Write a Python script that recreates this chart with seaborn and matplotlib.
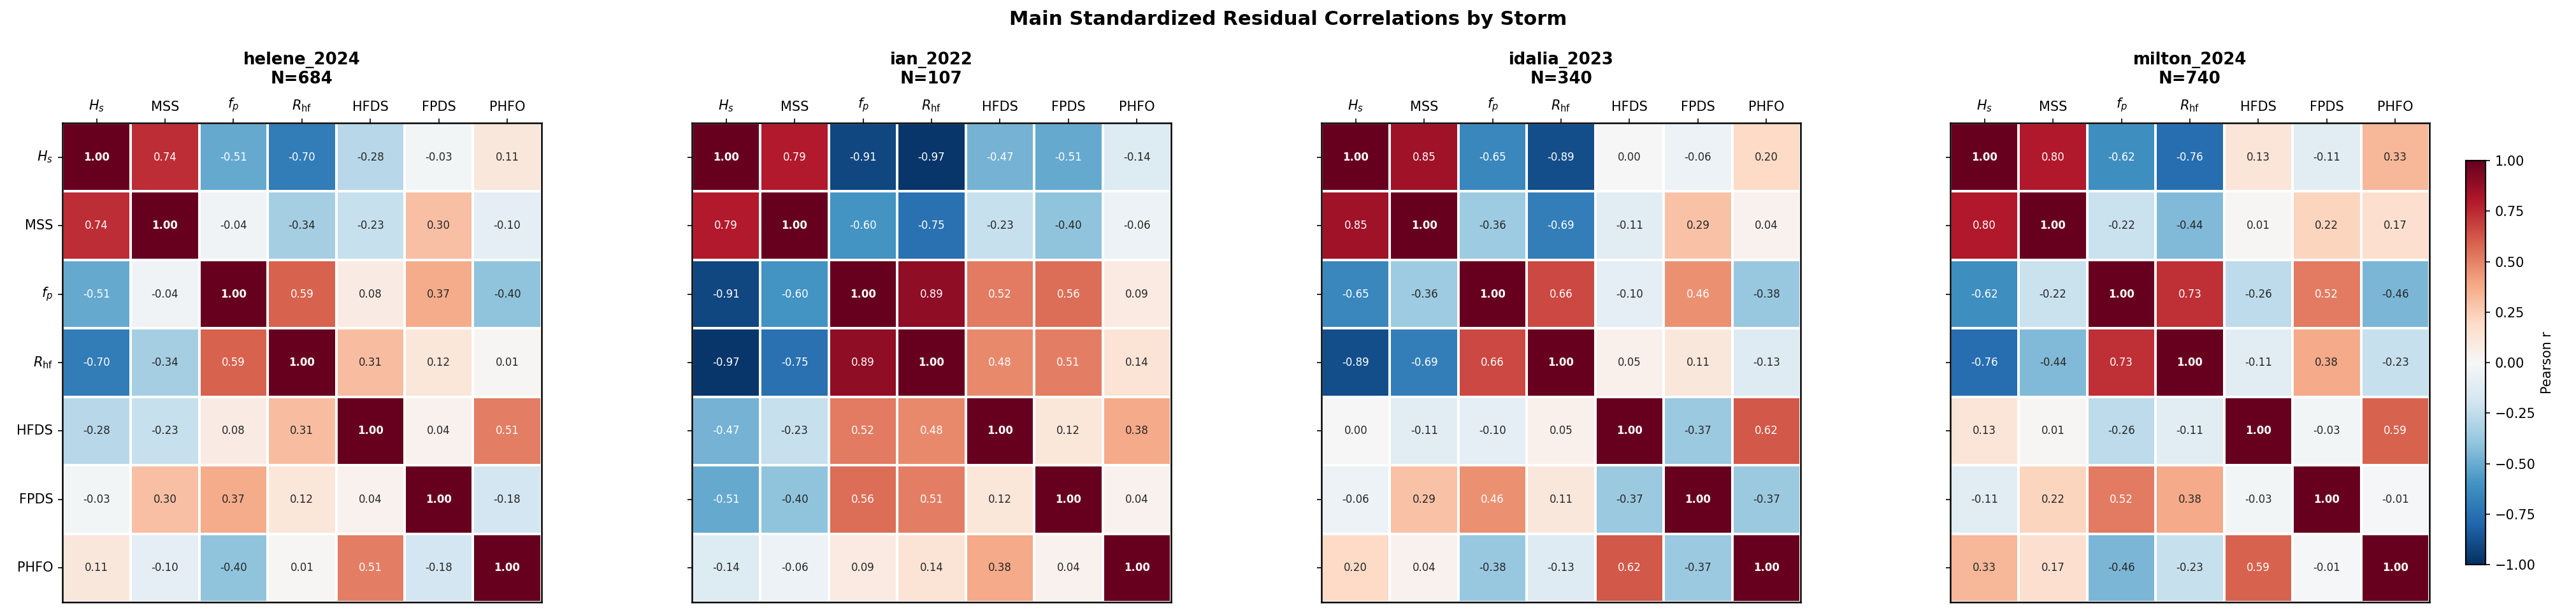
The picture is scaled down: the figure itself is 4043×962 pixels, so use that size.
import numpy as np
import pandas as pd
import matplotlib
matplotlib.use("Agg")
import matplotlib.pyplot as plt
import seaborn as sns

# variable labels (same order on both axes)
var_labels = [r"$H_s$", "MSS", r"$f_p$", r"$R_{\rm hf}$", "HFDS", "FPDS", "PHFO"]

storms = ["helene_2024", "ian_2022", "idalia_2023", "milton_2024"]
n_obs = [684, 107, 340, 740]

helene_corr = [
    [1.00, 0.74, -0.51, -0.70, -0.28, -0.03, 0.11],
    [0.74, 1.00, -0.04, -0.34, -0.23, 0.30, -0.10],
    [-0.51, -0.04, 1.00, 0.59, 0.08, 0.37, -0.40],
    [-0.70, -0.34, 0.59, 1.00, 0.31, 0.12, 0.01],
    [-0.28, -0.23, 0.08, 0.31, 1.00, 0.04, 0.51],
    [-0.03, 0.30, 0.37, 0.12, 0.04, 1.00, -0.18],
    [0.11, -0.10, -0.40, 0.01, 0.51, -0.18, 1.00],
]
ian_corr = [
    [1.00, 0.79, -0.91, -0.97, -0.47, -0.51, -0.14],
    [0.79, 1.00, -0.60, -0.75, -0.23, -0.40, -0.06],
    [-0.91, -0.60, 1.00, 0.89, 0.52, 0.56, 0.09],
    [-0.97, -0.75, 0.89, 1.00, 0.48, 0.51, 0.14],
    [-0.47, -0.23, 0.52, 0.48, 1.00, 0.12, 0.38],
    [-0.51, -0.40, 0.56, 0.51, 0.12, 1.00, 0.04],
    [-0.14, -0.06, 0.09, 0.14, 0.38, 0.04, 1.00],
]
idalia_corr = [
    [1.00, 0.85, -0.65, -0.89, 0.00, -0.06, 0.20],
    [0.85, 1.00, -0.36, -0.69, -0.11, 0.29, 0.04],
    [-0.65, -0.36, 1.00, 0.66, -0.10, 0.46, -0.38],
    [-0.89, -0.69, 0.66, 1.00, 0.05, 0.11, -0.13],
    [0.00, -0.11, -0.10, 0.05, 1.00, -0.37, 0.62],
    [-0.06, 0.29, 0.46, 0.11, -0.37, 1.00, -0.37],
    [0.20, 0.04, -0.38, -0.13, 0.62, -0.37, 1.00],
]
milton_corr = [
    [1.00, 0.80, -0.62, -0.76, 0.13, -0.11, 0.33],
    [0.80, 1.00, -0.22, -0.44, 0.01, 0.22, 0.17],
    [-0.62, -0.22, 1.00, 0.73, -0.26, 0.52, -0.46],
    [-0.76, -0.44, 0.73, 1.00, -0.11, 0.38, -0.23],
    [0.13, 0.01, -0.26, -0.11, 1.00, -0.03, 0.59],
    [-0.11, 0.22, 0.52, 0.38, -0.03, 1.00, -0.01],
    [0.33, 0.17, -0.46, -0.23, 0.59, -0.01, 1.00],
]
all_corr = [helene_corr, ian_corr, idalia_corr, milton_corr]

fig = plt.figure(figsize=(4043 / 150, 962 / 150), dpi=150)

lefts = [0.0242, 0.2686, 0.5130, 0.7571]
cax = fig.add_axes([0.9572, 0.079, 0.0077, 0.659])

for i, (name, n, corr) in enumerate(zip(storms, n_obs, all_corr)):
    ax = fig.add_axes([lefts[i], 0.0177, 0.186, 0.7817])
    df = pd.DataFrame(corr, index=var_labels, columns=var_labels)
    last = i == len(storms) - 1
    sns.heatmap(df, ax=ax, cmap="RdBu_r", vmin=-1, vmax=1, center=0,
                annot=True, fmt=".2f", annot_kws={"size": 8},
                linewidths=1, linecolor="white",
                cbar=last, cbar_ax=cax if last else None,
                cbar_kws={"label": "Pearson r"} if last else None)
    # bold white on the diagonal
    k = len(var_labels)
    for idx, t in enumerate(ax.texts):
        r, c = divmod(idx, k)
        if r == c:
            t.set_fontweight("bold")
            t.set_color("white")
    ax.xaxis.tick_top()
    ax.xaxis.set_label_position("top")
    ax.set_xticklabels(var_labels, rotation=0, fontsize=10)
    if i == 0:
        ax.set_yticklabels(var_labels, rotation=0, fontsize=10)
    else:
        ax.set_yticklabels([])
    ax.set_xlabel("")
    ax.set_ylabel("")
    for s in ax.spines.values():
        s.set_visible(True)
        s.set_color("black")
        s.set_linewidth(1.2)
    ax.set_title(f"{name}\nN={n}", fontsize=12.5, fontweight="bold", pad=10)

cax.tick_params(labelsize=10)
cax.yaxis.label.set_size(10)
for s in cax.spines.values():
    s.set_visible(True)
    s.set_linewidth(1.0)

fig.suptitle("Main Standardized Residual Correlations by Storm",
             fontsize=14.7, fontweight="bold", y=0.983)

fig.savefig("out.png", dpi=150)
